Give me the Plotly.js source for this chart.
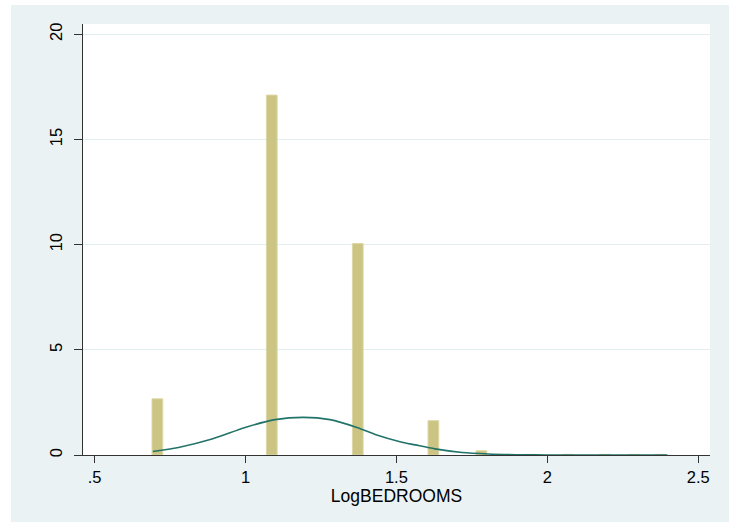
<!DOCTYPE html>
<html>
<head>
<meta charset="utf-8">
<script src="https://cdn.plot.ly/plotly-3.0.1.min.js"></script>
<style>
  html, body { margin: 0; padding: 0; background: #ffffff; }
  #chart { position: absolute; left: 11px; top: 5px; width: 718px; height: 517px; }
</style>
</head>
<body>
<div id="chart"></div>
<script>
// Histogram bins (bin centers on LogBEDROOMS) and densities
const binCenters = [0.708, 1.087, 1.372, 1.6225, 1.7815, 1.94, 2.069, 2.191, 2.287, 2.374];
const binDensity = [2.67, 17.11, 10.05, 1.63, 0.20, 0.03, 0.03, 0.03, 0.03, 0.03];

// Normal density overlay
const normX = [0.693, 0.778, 0.889, 0.999, 1.098, 1.192, 1.280, 1.369, 1.435, 1.512, 1.562, 1.628, 1.717, 1.805, 1.926, 2.0, 2.1, 2.2, 2.3, 2.398];
const normY = [0.17, 0.36, 0.76, 1.31, 1.68, 1.79, 1.68, 1.31, 0.95, 0.63, 0.48, 0.29, 0.12, 0.05, 0.01, 0.003, 0.0005, 0.0, 0.0, 0.0];

// Axis ticks
const xTickVals = [0.5, 1, 1.5, 2, 2.5];
const xTickText = ['.5', '1', '1.5', '2', '2.5'];
const yTickVals = [0, 5, 10, 15, 20];
const yTickText = ['0', '5', '10', '15', '20'];
const xLabel = 'LogBEDROOMS';

const font = 'Liberation Sans, Arial, sans-serif';

const traces = [
  {
    type: 'bar',
    x: binCenters,
    y: binDensity,
    width: 0.0355,
    marker: { color: '#cbc482', line: { color: '#dcd7a4', width: 1 } },
    hoverinfo: 'x+y'
  },
  {
    type: 'scatter',
    mode: 'lines',
    x: normX,
    y: normY,
    line: { color: '#21736a', width: 1.6, shape: 'spline', smoothing: 0.8 },
    hoverinfo: 'x+y'
  }
];

const layout = {
  width: 718,
  height: 517,
  paper_bgcolor: '#eaf2f3',
  plot_bgcolor: '#ffffff',
  showlegend: false,
  margin: { l: 72, r: 19, t: 19, b: 67 },
  font: { family: font, size: 16, color: '#000000' },
  xaxis: {
    range: [0.4616, 2.539],
    tickvals: xTickVals,
    ticktext: xTickText,
    ticks: 'outside',
    ticklen: 7,
    tickcolor: '#333333',
    tickwidth: 1,
    showline: true,
    linecolor: '#333333',
    linewidth: 1,
    showgrid: false,
    zeroline: false,
    tickfont: { family: font, size: 16.5, color: '#000000' },
    title: { text: xLabel, font: { family: font, size: 17.5, color: '#000000' }, standoff: 1 }
  },
  yaxis: {
    range: [0, 20.49],
    tickvals: yTickVals,
    ticktext: yTickText,
    tickangle: -90,
    ticks: 'outside',
    ticklen: 8,
    tickcolor: '#333333',
    tickwidth: 1,
    showline: true,
    linecolor: '#333333',
    linewidth: 1,
    showgrid: true,
    gridcolor: '#e3eef1',
    gridwidth: 1,
    zeroline: false,
    tickfont: { family: font, size: 16.5, color: '#000000' },
    ticklabelstandoff: 5
  },
  bargap: 0
};

Plotly.newPlot('chart', traces, layout, { displayModeBar: false, staticPlot: true });
</script>
</body>
</html>
